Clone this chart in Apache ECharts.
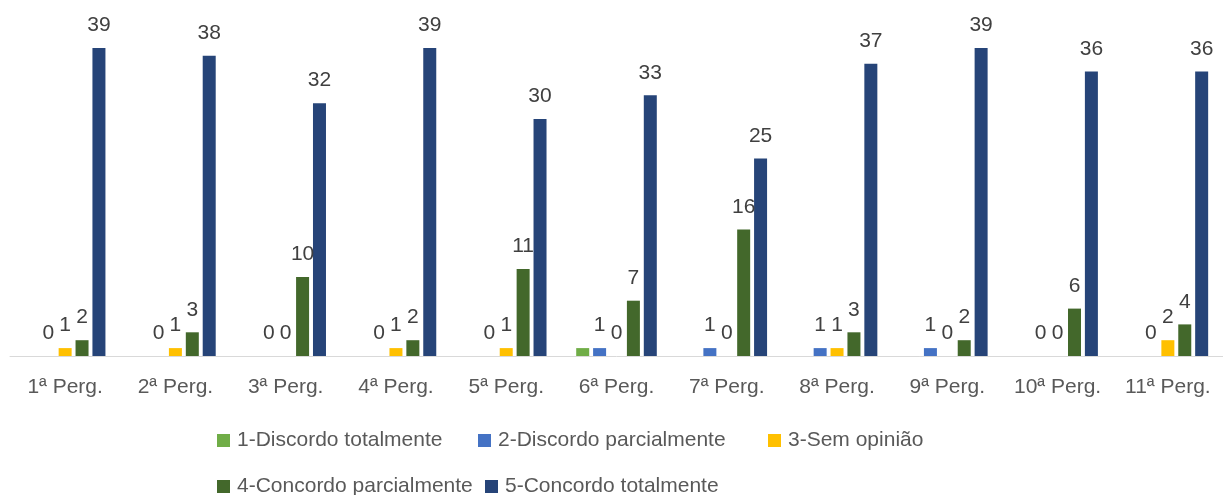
<!DOCTYPE html>
<html>
<head>
<meta charset="utf-8">
<script src="https://cdn.jsdelivr.net/npm/echarts@6/dist/echarts.min.js"></script>
<style>
  html, body { margin: 0; padding: 0; background: #fff; }
  #chart { width: 1223px; height: 495px; }
</style>
</head>
<body>
<div id="chart"></div>
<script>
var categories = ['1ª Perg.', '2ª Perg.', '3ª Perg.', '4ª Perg.', '5ª Perg.', '6ª Perg.',
                  '7ª Perg.', '8ª Perg.', '9ª Perg.', '10ª Perg.', '11ª Perg.'];
var seriesNames = ['1-Discordo totalmente', '2-Discordo parcialmente', '3-Sem opinião',
                   '4-Concordo parcialmente', '5-Concordo totalmente'];
var discordoTotal    = [0, 0, 0, 0, 0, 1, 0, 0, 0, 0, 0];
var discordoParcial  = [0, 0, 0, 0, 0, 1, 1, 1, 1, 0, 0];
var semOpiniao       = [1, 1, 0, 1, 1, 0, 0, 1, 0, 0, 2];
var concordoParcial  = [2, 3, 10, 2, 11, 7, 16, 3, 2, 6, 4];
var concordoTotal    = [39, 38, 32, 39, 30, 33, 25, 37, 39, 36, 36];

var colors = ['#70AD47', '#4472C4', '#FFC000', '#43682B', '#264478'];
var font = 'Liberation Sans, Arial, sans-serif';

var chart = echarts.init(document.getElementById('chart'));

function makeSeries(i, data, showLabel) {
    return {
        name: seriesNames[i],
        type: 'bar',
        data: data,
        barWidth: 13,
        barGap: '30%',
        itemStyle: { color: colors[i] },
        label: {
            show: showLabel,
            position: 'top',
            distance: 12,
            color: '#404040',
            fontSize: 21,
            fontFamily: font
        }
    };
}

function legendItem(i, left, top) {
    return {
        data: [seriesNames[i]],
        left: left,
        top: top,
        padding: 0,
        itemWidth: 13,
        itemHeight: 13,
        icon: 'rect',
        textStyle: { color: '#595959', fontSize: 21, fontFamily: font, padding: [0, 0, 0, 2] }
    };
}

chart.setOption({
    animation: false,
    color: colors,
    grid: { left: 10, top: 40, width: 1221, bottom: 139 },
    legend: [
        legendItem(0, 217, 430),
        legendItem(1, 478, 430),
        legendItem(2, 768, 430),
        legendItem(3, 217, 476),
        legendItem(4, 485, 476)
    ],
    xAxis: {
        type: 'category',
        data: categories,
        axisLine: { lineStyle: { color: '#D9D9D9', width: 1 } },
        axisTick: { show: false },
        axisLabel: { interval: 0, color: '#595959', fontSize: 21, fontFamily: font, margin: 21 }
    },
    yAxis: {
        type: 'value',
        min: 0,
        max: 40,
        show: false,
        splitLine: { show: false }
    },
    series: [
        makeSeries(0, discordoTotal, false),
        makeSeries(1, discordoParcial, true),
        makeSeries(2, semOpiniao, true),
        makeSeries(3, concordoParcial, true),
        makeSeries(4, concordoTotal, true)
    ]
});
</script>
</body>
</html>
